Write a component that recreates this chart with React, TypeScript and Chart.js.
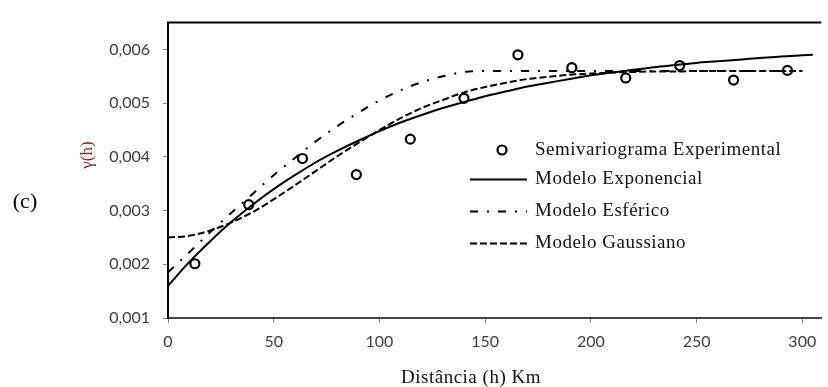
import React, { useEffect, useRef } from 'react';
import { Chart, registerables } from 'chart.js';

Chart.register(...registerables);

// Experimental semivariogram (lag in km, semivariance)
const lagKm = [12.7, 38.2, 63.6, 89.1, 114.6, 140.0, 165.5, 191.0, 216.5, 242.0, 267.5, 293.0];
const semivariance = [0.00201, 0.00311, 0.00397, 0.00367, 0.00433, 0.00509, 0.0059, 0.00566, 0.00547, 0.0057, 0.00543, 0.00561];

// Fitted model curves
const curveKm = [0, 10, 20, 30, 40, 50, 60, 70, 80, 90, 100, 110, 120, 130, 140, 150, 160, 170, 180, 190, 200, 210, 220, 230, 240, 250, 260, 270, 280, 290, 300, 305];
const modeloExponencial = [0.0016, 0.00204, 0.00243, 0.00279, 0.00311, 0.0034, 0.00366, 0.0039, 0.00411, 0.0043, 0.00448, 0.00464, 0.00478, 0.00491, 0.00502, 0.00513, 0.00522, 0.00531, 0.00538, 0.00545, 0.00552, 0.00557, 0.00562, 0.00567, 0.00571, 0.00575, 0.00578, 0.00581, 0.00584, 0.00587, 0.00589, 0.0059];
const modeloEsferico = [0.00185, 0.00222, 0.0026, 0.00296, 0.00331, 0.00366, 0.00398, 0.00429, 0.00457, 0.00482, 0.00505, 0.00524, 0.00539, 0.0055, 0.00558, 0.0056, 0.0056, 0.0056, 0.0056, 0.0056, 0.0056, 0.0056, 0.0056, 0.0056, 0.0056, 0.0056, 0.0056, 0.0056, 0.0056, 0.0056, 0.0056, null];
const modeloGaussiano = [0.0025, 0.00253, 0.00263, 0.00278, 0.00297, 0.00321, 0.00347, 0.00374, 0.00401, 0.00426, 0.0045, 0.00472, 0.00491, 0.00506, 0.0052, 0.0053, 0.00538, 0.00545, 0.00549, 0.00553, 0.00555, 0.00557, 0.00558, 0.00559, 0.00559, 0.0056, 0.0056, 0.0056, 0.0056, 0.0056, 0.0056, null];

const xTicks = [0, 50, 100, 150, 200, 250, 300];
const yTicks = [0.001, 0.002, 0.003, 0.004, 0.005, 0.006];
const yTickLabels = ['0,001', '0,002', '0,003', '0,004', '0,005', '0,006'];

const seriesNames = ['Semivariograma Experimental', 'Modelo Exponencial', 'Modelo Esférico', 'Modelo Gaussiano'];
const xTitle = 'Distância (h) Km';
const yTitle = 'γ(h)';
const panelLabel = '(c)';

const SERIF = "'Liberation Serif', 'DejaVu Serif', serif";
const SANS = "Lato, 'Liberation Sans', sans-serif";

const decorPlugin = {
  id: 'decor',
  afterDraw(chart: any) {
    const ctx: CanvasRenderingContext2D = chart.ctx;
    const { left, right, top } = chart.chartArea;
    ctx.save();
    // top frame line
    ctx.strokeStyle = '#000';
    ctx.lineWidth = 2;
    ctx.beginPath();
    ctx.moveTo(left - 1, top);
    ctx.lineTo(right, top);
    ctx.stroke();

    // panel label
    ctx.fillStyle = '#000';
    ctx.font = `22px ${SERIF}`;
    ctx.textAlign = 'center';
    ctx.textBaseline = 'middle';
    ctx.fillText(panelLabel, 25, 202);

    // y title
    ctx.save();
    ctx.translate(88, 155);
    ctx.rotate(-Math.PI / 2);
    ctx.fillStyle = '#7a3322';
    ctx.font = `17px ${SERIF}`;
    ctx.fillText(yTitle, 0, 0);
    ctx.restore();

    // x title
    ctx.fillStyle = '#111';
    ctx.font = `19px ${SERIF}`;
    (ctx as any).letterSpacing = '0.5px';
    ctx.fillText(xTitle, 471, 378);

    // legend
    const rows = [150, 179.5, 211.5, 243.5];
    ctx.textAlign = 'left';
    chart.data.datasets.forEach((ds: any, i: number) => {
      const y = rows[i];
      ctx.save();
      (ctx as any).letterSpacing = '0px';
      ctx.strokeStyle = '#000';
      if (i === 0) {
        ctx.lineWidth = ds.pointBorderWidth;
        ctx.beginPath();
        ctx.arc(502, y, ds.pointRadius, 0, Math.PI * 2);
        ctx.stroke();
      } else {
        ctx.lineWidth = ds.borderWidth;
        ctx.setLineDash(ds.borderDash || []);
        ctx.beginPath();
        ctx.moveTo(470, y);
        ctx.lineTo(527, y);
        ctx.stroke();
      }
      ctx.restore();
      ctx.fillStyle = '#111';
      ctx.font = `19px ${SERIF}`;
      (ctx as any).letterSpacing = '0.5px';
      ctx.fillText(ds.label, 535, y);
    });
    ctx.restore();
  },
};

export default function App() {
  const ref = useRef<HTMLCanvasElement>(null);

  useEffect(() => {
    if (!ref.current) return;
    const chart = new Chart(ref.current, {
      type: 'scatter',
      data: {
        datasets: [
          {
            label: seriesNames[0],
            data: lagKm.map((x, i) => ({ x, y: semivariance[i] })),
            showLine: false,
            pointRadius: 4.5,
            pointBorderWidth: 2.2,
            pointBackgroundColor: 'rgba(255,255,255,0)',
            pointBorderColor: '#000',
          },
          {
            label: seriesNames[1],
            data: curveKm.map((x, i) => ({ x, y: modeloExponencial[i] })),
            showLine: true,
            pointRadius: 0,
            borderColor: '#000',
            borderWidth: 2,
            cubicInterpolationMode: 'monotone',
          },
          {
            label: seriesNames[2],
            data: curveKm.map((x, i) => ({ x, y: modeloEsferico[i] })),
            showLine: true,
            pointRadius: 0,
            borderColor: '#000',
            borderWidth: 2,
            borderDash: [8, 9, 2, 9],
            cubicInterpolationMode: 'monotone',
          },
          {
            label: seriesNames[3],
            data: curveKm.map((x, i) => ({ x, y: modeloGaussiano[i] })),
            showLine: true,
            pointRadius: 0,
            borderColor: '#000',
            borderWidth: 2,
            borderDash: [7, 3],
            cubicInterpolationMode: 'monotone',
          },
        ],
      },
      options: {
        responsive: false,
        devicePixelRatio: 1,
        animation: false,
        layout: { padding: { top: 13, right: 0, left: 0, bottom: 0 } },
        plugins: { legend: { display: false }, tooltip: { enabled: false } },
        scales: {
          x: {
            type: 'linear',
            min: 0,
            max: 309,
            afterBuildTicks: (s: any) => {
              s.ticks = xTicks.map((v) => ({ value: v }));
            },
            afterFit: (s: any) => {
              s.height = 69;
            },
            grid: { drawOnChartArea: false, drawTicks: true, tickLength: 5, color: '#888' },
            border: { color: '#444', width: 2 },
            ticks: {
              padding: 9,
              color: '#3c3c3c',
              font: { family: SANS, size: 16 },
              callback: (v: any) => String(v),
              maxRotation: 0,
            },
          },
          y: {
            type: 'linear',
            min: 0.001,
            max: 0.0065,
            afterBuildTicks: (s: any) => {
              s.ticks = yTicks.map((v) => ({ value: v }));
            },
            afterFit: (s: any) => {
              s.width = 168;
            },
            grid: { drawOnChartArea: false, drawTicks: true, tickLength: 5, color: '#888' },
            border: { color: '#000', width: 2 },
            ticks: {
              padding: 13,
              color: '#3c3c3c',
              font: { family: SANS, size: 16 },
              callback: (v: any) => {
                const idx = yTicks.findIndex((t) => Math.abs(t - v) < 1e-9);
                return idx >= 0 ? yTickLabels[idx] : '';
              },
            },
          },
        },
      },
      plugins: [decorPlugin],
    } as any);
    return () => chart.destroy();
  }, []);

  return (
    <div style={{ position: 'absolute', left: 0, top: 0, width: 828, height: 387, background: '#fff' }}>
      <canvas ref={ref} width={828} height={387} />
    </div>
  );
}
